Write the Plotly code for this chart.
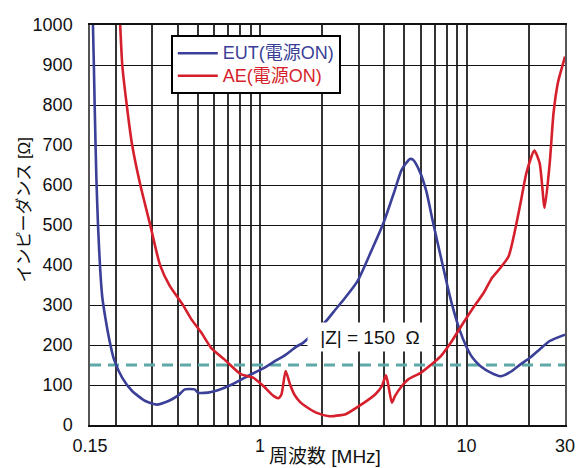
import math
import plotly.graph_objects as go

# Impedance vs frequency, EUT and AE both powered on
eut_freq = [0.15, 0.155, 0.158, 0.161, 0.164, 0.168, 0.172, 0.178, 0.186, 0.196,
            0.215, 0.240, 0.278, 0.316, 0.360, 0.401, 0.432, 0.482, 0.500, 0.559,
            0.624, 0.722, 0.899, 1.04, 1.20, 1.30, 1.50, 1.62, 2.09, 2.33,
            2.51, 2.96, 3.45, 3.96, 4.50, 4.85, 5.32, 5.51, 5.93, 6.39,
            6.84, 7.51, 8.09, 8.55, 9.24, 9.96, 10.7, 11.7, 13.1, 14.6,
            16.6, 18.2, 20.3, 22.6, 25.3, 30.0]
eut_z = [1150, 1000, 800, 620, 500, 390, 320, 268, 214, 164,
         118, 85, 60, 51, 60, 74, 89, 89, 81, 81,
         87, 100, 126, 142, 162, 172, 196, 206, 260, 290,
         310, 359, 434, 505, 588, 638, 665, 663, 634, 584,
         513, 420, 347, 297, 239, 197, 168, 147, 131, 122,
         135, 151, 168, 189, 210, 226]

ae_freq = [0.205, 0.210, 0.215, 0.226, 0.240, 0.263, 0.294, 0.328, 0.364, 0.424,
           0.465, 0.519, 0.579, 0.671, 0.806, 0.87, 0.93, 1.04, 1.165, 1.226,
           1.27, 1.33, 1.40, 1.47, 1.56, 1.66, 1.87, 2.16, 2.42, 2.60,
           3.01, 3.62, 3.89, 4.07, 4.19, 4.35, 4.50, 4.85, 5.22, 6.03,
           6.75, 7.51, 8.4, 9.42, 10.9, 12.1, 13.3, 14.6, 16.0, 17.2,
           18.4, 19.5, 21.3, 22.6, 23.9, 25.3, 26.4, 27.7, 28.5, 30.0]
ae_z = [1100, 1000, 900, 800, 700, 600, 499, 399, 349, 299,
        264, 231, 193, 164, 127, 122, 118, 97, 72, 67,
        77, 135, 100, 75, 58, 47, 31, 22, 24, 27,
        47, 77, 97, 124, 97, 56, 72, 97, 114, 131,
        151, 172, 206, 247, 297, 330, 368, 393, 422, 488,
        563, 630, 686, 655, 543, 655, 780, 855, 880, 921]

z_ref = 150
ref_freq = [0.15, 30.0]

x_tickvals = [0.15, 0.2, 0.3, 0.4, 0.5, 0.6, 0.7, 0.8, 0.9, 1,
              2, 3, 4, 5, 6, 7, 8, 9, 10, 20, 30]
x_ticklabels = {0.15: "0.15", 1: "1", 10: "10", 30: "30"}
y_tickvals = list(range(0, 1001, 100))

BLUE = "#3a3f97"
RED = "#d61f2c"
TEAL = "#5fa8a8"
FONT = "Liberation Sans, Arial, Noto Sans CJK JP"

W, H = 587, 468
ML, MR, MT, MB = 90, 15, 25, 42
PW, PH = W - ML - MR, H - MT - MB


def px_x(p):
    return (p - ML) / PW


def px_y(p):
    return (H - MB - p) / PH


def legend_label(text, color):
    return f"<span style='color:{color};font-size:18px'>{text}</span>"


fig = go.Figure()

fig.add_trace(go.Scatter(
    x=ref_freq, y=[z_ref, z_ref], mode="lines", showlegend=False,
    line=dict(color=TEAL, width=3, dash="11px,7px"), hoverinfo="skip"))

fig.add_trace(go.Scatter(
    x=eut_freq, y=eut_z, mode="lines", name=legend_label("EUT(電源ON)", BLUE),
    line=dict(color=BLUE, width=2.6, shape="spline", smoothing=0.6)))

fig.add_trace(go.Scatter(
    x=ae_freq, y=ae_z, mode="lines", name=legend_label("AE(電源ON)", RED),
    line=dict(color=RED, width=2.6, shape="spline", smoothing=0.6)))

# drop shadow behind the legend box
fig.add_shape(type="rect", xref="paper", yref="paper", layer="above",
              x0=px_x(175), x1=px_x(338), y0=px_y(93), y1=px_y(38),
              fillcolor="black", line=dict(width=0))

fig.add_annotation(
    x=math.log10(3.39), y=221, xref="x", yref="y",
    text=f"|Z| = {z_ref}  Ω", showarrow=False,
    font=dict(family=FONT, size=19, color="#111"),
    bgcolor="white", width=122, height=26, borderpad=1)

fig.add_annotation(
    x=px_x(328), y=px_y(458), xref="paper", yref="paper",
    xanchor="center", yanchor="middle",
    text="周波数 [MHz]", showarrow=False,
    font=dict(family=FONT, size=19, color="#111"))
fig.add_annotation(
    x=px_x(24), y=px_y(210), xref="paper", yref="paper",
    xanchor="center", yanchor="middle",
    text="インピーダンス [Ω]", showarrow=False, textangle=-90,
    font=dict(family=FONT, size=17, color="#111"))

fig.update_layout(
    width=W, height=H, autosize=False,
    margin=dict(l=ML, r=MR, t=MT, b=MB, pad=0),
    paper_bgcolor="white", plot_bgcolor="white",
    font=dict(family=FONT, size=18, color="#111"),
    legend=dict(x=px_x(172), y=px_y(35), xanchor="left", yanchor="top",
                bgcolor="white", bordercolor="black", borderwidth=2,
                itemwidth=40, font=dict(family=FONT, size=15)),
    xaxis=dict(type="log", range=[math.log10(0.15), math.log10(30)],
               tickvals=x_tickvals,
               ticktext=[x_ticklabels.get(v, "") for v in x_tickvals],
               showgrid=True, gridcolor="#333", gridwidth=1.5,
               showline=True, mirror=True, linecolor="#111", linewidth=1.6,
               ticks="", ticklabelstandoff=4, zeroline=False,
               tickfont=dict(size=18)),
    yaxis=dict(range=[0, 1000], tickvals=y_tickvals,
               showgrid=True, gridcolor="#111", gridwidth=1.3,
               showline=True, mirror=True, linecolor="#555", linewidth=1.5,
               ticks="", ticklabelstandoff=12, zeroline=False,
               tickfont=dict(size=18)),
)

fig.write_html("out.html")
